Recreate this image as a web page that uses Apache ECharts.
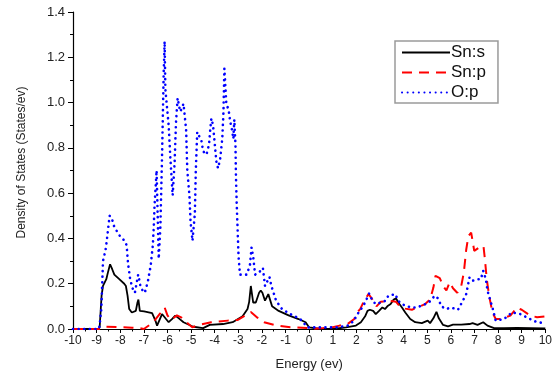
<!DOCTYPE html>
<html><head><meta charset="utf-8">
<script src="https://cdn.jsdelivr.net/npm/echarts@6/dist/echarts.min.js"></script>
<style>html,body{margin:0;padding:0;background:#fff}#c{width:555px;height:376px}</style>
</head><body><div id="c"></div>
<script>
const seriesNames = ['Sn:s', 'Sn:p', 'O:p'];
const xTicks = [-10, 10, 1];
const yTicks = [0, 1.4, 0.2];

const snS = [[-10,0],[-8.9,0],[-8.87,0.01],[-8.79,0.147],[-8.73,0.19],[-8.59,0.22],[-8.52,0.25],[-8.43,0.286],[-8.34,0.264],[-8.25,0.24],[-8.04,0.22],[-7.83,0.2],[-7.76,0.19],[-7.69,0.147],[-7.62,0.088],[-7.51,0.073],[-7.34,0.08],[-7.27,0.117],[-7.23,0.13],[-7.17,0.08],[-6.99,0.078],[-6.65,0.07],[-6.57,0.075],[-6.51,0.037],[-6.44,0.015],[-6.37,0.02],[-6.23,0.066],[-6.16,0.07],[-6.06,0.044],[-5.95,0.03],[-5.81,0.044],[-5.67,0.059],[-5.53,0.048],[-5.32,0.03],[-4.91,0.01],[-4.49,0.004],[-4.21,0.018],[-3.65,0.022],[-3.24,0.03],[-2.82,0.056],[-2.61,0.088],[-2.54,0.12],[-2.47,0.19],[-2.37,0.117],[-2.26,0.117],[-2.12,0.16],[-2.05,0.17],[-1.98,0.16],[-1.87,0.125],[-1.73,0.154],[-1.68,0.154],[-1.57,0.1],[-1.29,0.08],[-0.87,0.06],[-0.45,0.044],[-0.15,0.03],[0,0.007],[0.5,0],[1,0],[1.56,0.007],[1.98,0.015],[2.19,0.03],[2.37,0.056],[2.47,0.08],[2.57,0.085],[2.71,0.08],[2.82,0.066],[2.96,0.08],[3.1,0.095],[3.21,0.088],[3.31,0.1],[3.45,0.11],[3.58,0.13],[3.68,0.135],[3.79,0.115],[3.93,0.095],[4.07,0.073],[4.28,0.044],[4.49,0.03],[4.77,0.026],[5.02,0.037],[5.12,0.026],[5.26,0.047],[5.39,0.076],[5.49,0.047],[5.67,0.018],[5.88,0.012],[6.09,0.019],[6.44,0.019],[6.79,0.022],[6.92,0.026],[7.13,0.018],[7.37,0.03],[7.55,0.015],[7.83,0.004],[8.25,0.004],[8.8,0.005],[10,0.003]];

const snP = [[-10,0],[-8.9,0],[-8.7,0.01],[-8.0,0.008],[-7.5,0.006],[-7.2,0.004],[-7.0,0],[-6.92,0.005],[-6.6,0.03],[-6.3,0.07],[-6.12,0.095],[-6.0,0.06],[-5.85,0.04],[-5.6,0.06],[-5.4,0.05],[-5.2,0.03],[-4.95,0.008],[-4.6,0.02],[-4.15,0.03],[-3.44,0.037],[-3.02,0.04],[-2.47,0.075],[-2.19,0.05],[-1.91,0.03],[-1.36,0.015],[-0.8,0.008],[-0.1,0.004],[0,0],[0.6,0.004],[1.0,0.008],[1.29,0.015],[1.63,0.022],[1.91,0.044],[2.0,0.07],[2.16,0.088],[2.33,0.125],[2.51,0.154],[2.65,0.135],[2.85,0.1],[3.03,0.12],[3.38,0.125],[3.68,0.12],[3.86,0.097],[4.07,0.09],[4.35,0.085],[4.63,0.097],[4.91,0.11],[5.12,0.13],[5.26,0.183],[5.35,0.235],[5.53,0.225],[5.67,0.19],[5.81,0.17],[5.95,0.207],[6.09,0.18],[6.27,0.16],[6.44,0.19],[6.55,0.25],[6.65,0.35],[6.74,0.41],[6.86,0.426],[6.99,0.345],[7.2,0.36],[7.38,0.367],[7.44,0.31],[7.52,0.22],[7.62,0.147],[7.76,0.073],[7.9,0.044],[8.1,0.044],[8.52,0.059],[8.8,0.095],[9.0,0.085],[9.36,0.059],[9.65,0.052],[10,0.056]];

const oP = [[-10,0],[-8.9,0],[-8.87,0.02],[-8.8,0.09],[-8.73,0.3],[-8.62,0.35],[-8.57,0.39],[-8.45,0.5],[-8.36,0.49],[-8.25,0.45],[-8.01,0.41],[-7.82,0.39],[-7.73,0.37],[-7.67,0.29],[-7.58,0.22],[-7.48,0.18],[-7.38,0.16],[-7.24,0.24],[-7.2,0.22],[-7.13,0.18],[-6.96,0.16],[-6.83,0.21],[-6.71,0.28],[-6.62,0.37],[-6.58,0.45],[-6.55,0.54],[-6.46,0.7],[-6.37,0.31],[-6.3,0.45],[-6.23,0.76],[-6.16,1.13],[-6.12,1.27],[-6.09,1.06],[-6.02,0.98],[-5.95,0.9],[-5.88,0.76],[-5.78,0.59],[-5.7,0.73],[-5.64,0.91],[-5.57,1.02],[-5.5,0.98],[-5.45,0.96],[-5.32,0.995],[-5.25,0.995],[-5.21,0.88],[-5.16,0.7],[-5.07,0.59],[-5.02,0.47],[-4.94,0.39],[-4.84,0.51],[-4.8,0.7],[-4.74,0.87],[-4.68,0.87],[-4.56,0.83],[-4.49,0.785],[-4.35,0.77],[-4.24,0.815],[-4.18,0.89],[-4.14,0.93],[-4.07,0.9],[-4.0,0.82],[-3.93,0.74],[-3.86,0.71],[-3.77,0.75],[-3.68,0.84],[-3.63,0.955],[-3.59,1.15],[-3.51,1.0],[-3.4,0.96],[-3.35,0.92],[-3.27,0.88],[-3.21,0.84],[-3.17,0.925],[-3.12,0.81],[-3.1,0.675],[-3.07,0.56],[-3.03,0.44],[-2.99,0.32],[-2.93,0.24],[-2.65,0.24],[-2.51,0.28],[-2.44,0.36],[-2.37,0.32],[-2.29,0.24],[-2.12,0.25],[-1.96,0.27],[-1.87,0.19],[-1.68,0.23],[-1.6,0.19],[-1.4,0.125],[-1.15,0.088],[-0.8,0.066],[-0.38,0.044],[-0.06,0.007],[0,0],[1.15,0.007],[1.63,0.015],[1.91,0.037],[2.0,0.06],[2.15,0.08],[2.33,0.11],[2.47,0.14],[2.54,0.157],[2.68,0.125],[2.82,0.11],[3.03,0.117],[3.24,0.125],[3.35,0.147],[3.65,0.154],[3.77,0.125],[3.93,0.11],[4.14,0.1],[4.35,0.095],[4.56,0.095],[4.84,0.107],[5.04,0.114],[5.32,0.147],[5.46,0.135],[5.6,0.1],[5.81,0.088],[5.99,0.095],[6.16,0.09],[6.3,0.085],[6.47,0.117],[6.65,0.154],[6.79,0.228],[6.92,0.213],[7.13,0.22],[7.27,0.22],[7.37,0.257],[7.48,0.22],[7.55,0.17],[7.66,0.13],[7.76,0.095],[7.9,0.037],[8.25,0.044],[8.59,0.073],[8.94,0.066],[9.36,0.044],[9.64,0.03],[10,0.026]];

const font = 'Liberation Sans, Arial, sans-serif';
const chart = echarts.init(document.getElementById('c'), null, {renderer: 'canvas'});
chart.setOption({
  animation: false,
  backgroundColor: '#fff',
  grid: {left: 73, right: 3, top: 12, bottom: 46, containLabel: false},
  legend: {
    left: 395, top: 41, orient: 'vertical',
    padding: [3, 12, 2, 6], itemGap: 3,
    itemWidth: 48, itemHeight: 14,
    borderColor: '#9a9a9a', borderWidth: 1.5, backgroundColor: '#fff',
    itemStyle: {opacity: 0},
    textStyle: {fontFamily: font, fontSize: 17, color: '#111', padding: [0, 0, 0, -4]},
    data: seriesNames
  },
  xAxis: {
    type: 'value', min: xTicks[0], max: xTicks[1], interval: xTicks[2],
    name: 'Energy (ev)', nameLocation: 'middle', nameGap: 29,
    nameTextStyle: {fontFamily: font, fontSize: 13, color: '#222'},
    axisLine: {show: true, onZero: false, lineStyle: {color: '#000', width: 1.2}},
    axisTick: {show: true, inside: false, length: 4, lineStyle: {color: '#000'}},
    minorTick: {show: true, splitNumber: 2, length: 2.5, lineStyle: {color: '#000'}},
    splitLine: {show: false},
    axisLabel: {fontFamily: font, fontSize: 12, color: '#222', margin: 6}
  },
  yAxis: {
    type: 'value', min: yTicks[0], max: yTicks[1], interval: yTicks[2],
    name: 'Density of States (States/ev)', nameLocation: 'middle', nameGap: 45,
    nameTextStyle: {fontFamily: font, fontSize: 12, color: '#222', padding: [0, 0, 0, 16]},
    axisLine: {show: true, onZero: false, lineStyle: {color: '#000', width: 1.2}},
    axisTick: {show: true, inside: false, length: 5, lineStyle: {color: '#000'}},
    minorTick: {show: true, splitNumber: 2, length: 3, lineStyle: {color: '#000'}},
    splitLine: {show: false},
    axisLabel: {fontFamily: font, fontSize: 13, color: '#222', margin: 8,
      formatter: v => v.toFixed(1)}
  },
  series: [
    {name: seriesNames[0], type: 'line', data: snS, symbol: 'none', z: 3,
     lineStyle: {color: '#000', width: 1.8, type: 'solid'}, itemStyle: {color: '#000'}},
    {name: seriesNames[1], type: 'line', data: snP, symbol: 'none', z: 4,
     lineStyle: {color: '#ff0000', width: 2, type: [10, 7]}, itemStyle: {color: '#ff0000'}},
    {name: seriesNames[2], type: 'line', data: oP, symbol: 'none', z: 5,
     lineStyle: {color: '#0000ff', width: 2.6, type: [0.1, 5.5], cap: 'round'}, itemStyle: {color: '#0000ff'}}
  ]
});
</script></body></html>
